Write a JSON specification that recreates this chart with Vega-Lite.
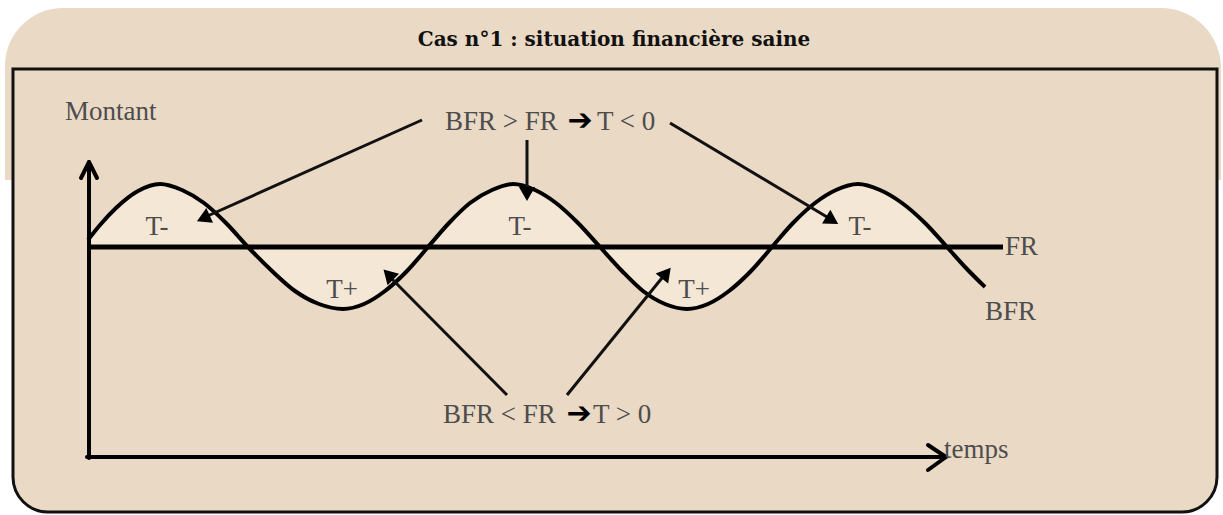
{
  "$schema": "https://vega.github.io/schema/vega-lite/v6.json",
  "width": 1223,
  "height": 515,
  "autosize": {"type": "fit", "contains": "padding"},
  "padding": 0,
  "background": "white",
  "config": {"view": {"stroke": null}},
  "datasets": {
    "top": [{"x": 5, "x2": 1221, "y": 8, "y2": 180}],
    "frame": [{"x": 13, "x2": 1217, "y": 69, "y2": 512}],
    "curve": [
      {"x": 88, "y": 240}, {"x": 100, "y": 225}, {"x": 116, "y": 208}, {"x": 138, "y": 191},
      {"x": 160, "y": 184}, {"x": 182, "y": 190}, {"x": 204, "y": 203}, {"x": 226, "y": 223},
      {"x": 248, "y": 247}, {"x": 272, "y": 271}, {"x": 295, "y": 291}, {"x": 319, "y": 304},
      {"x": 343, "y": 309}, {"x": 364, "y": 304}, {"x": 385, "y": 291}, {"x": 407, "y": 271},
      {"x": 428, "y": 247}, {"x": 449, "y": 223}, {"x": 470, "y": 203}, {"x": 492, "y": 190},
      {"x": 513, "y": 184}, {"x": 535, "y": 190}, {"x": 556, "y": 203}, {"x": 578, "y": 223},
      {"x": 600, "y": 247}, {"x": 622, "y": 271}, {"x": 643, "y": 291}, {"x": 665, "y": 304},
      {"x": 687, "y": 309}, {"x": 708, "y": 304}, {"x": 729, "y": 291}, {"x": 751, "y": 271},
      {"x": 772, "y": 247}, {"x": 793, "y": 223}, {"x": 815, "y": 203}, {"x": 836, "y": 190},
      {"x": 858, "y": 184}, {"x": 880, "y": 190}, {"x": 902, "y": 203}, {"x": 925, "y": 223},
      {"x": 947, "y": 247}, {"x": 966, "y": 268}, {"x": 985, "y": 287}
    ],
    "fill": [
      {"x": 88, "y": 240}, {"x": 100, "y": 225}, {"x": 116, "y": 208}, {"x": 138, "y": 191},
      {"x": 160, "y": 184}, {"x": 182, "y": 190}, {"x": 204, "y": 203}, {"x": 226, "y": 223},
      {"x": 248, "y": 247}, {"x": 272, "y": 271}, {"x": 295, "y": 291}, {"x": 319, "y": 304},
      {"x": 343, "y": 309}, {"x": 364, "y": 304}, {"x": 385, "y": 291}, {"x": 407, "y": 271},
      {"x": 428, "y": 247}, {"x": 449, "y": 223}, {"x": 470, "y": 203}, {"x": 492, "y": 190},
      {"x": 513, "y": 184}, {"x": 535, "y": 190}, {"x": 556, "y": 203}, {"x": 578, "y": 223},
      {"x": 600, "y": 247}, {"x": 622, "y": 271}, {"x": 643, "y": 291}, {"x": 665, "y": 304},
      {"x": 687, "y": 309}, {"x": 708, "y": 304}, {"x": 729, "y": 291}, {"x": 751, "y": 271},
      {"x": 772, "y": 247}, {"x": 793, "y": 223}, {"x": 815, "y": 203}, {"x": 836, "y": 190},
      {"x": 858, "y": 184}, {"x": 880, "y": 190}, {"x": 902, "y": 203}, {"x": 925, "y": 223},
      {"x": 947, "y": 247}
    ],
    "fr": [{"x": 88, "x2": 1003, "y": 247, "y2": 247}],
    "axes": [
      {"x": 89, "y": 458, "x2": 89, "y2": 164},
      {"x": 87, "y": 457, "x2": 944, "y2": 457},
      {"x": 81, "y": 178, "x2": 89, "y2": 162},
      {"x": 97, "y": 178, "x2": 89, "y2": 162},
      {"x": 928, "y": 445, "x2": 946, "y2": 457},
      {"x": 928, "y": 470, "x2": 946, "y2": 457}
    ],
    "pointers": [
      {"x": 422, "y": 120, "x2": 203, "y2": 218},
      {"x": 527, "y": 140, "x2": 527, "y2": 194},
      {"x": 670, "y": 123, "x2": 832, "y2": 220},
      {"x": 507, "y": 395, "x2": 388, "y2": 275},
      {"x": 567, "y": 395, "x2": 666, "y2": 273}
    ],
    "heads": [
      {"x": 203.3, "y": 218.3, "angle": 245.8},
      {"x": 527, "y": 194, "angle": 180},
      {"x": 832.2, "y": 220.3, "angle": 121},
      {"x": 388.4, "y": 274.5, "angle": 315.5},
      {"x": 666.3, "y": 273.1, "angle": 39.1}
    ],
    "title": [{"x": 614, "y": 46, "label": "Cas n°1 : situation financière saine"}],
    "labels": [
      {"x": 65, "y": 120, "label": "Montant"},
      {"x": 445, "y": 130, "label": "BFR > FR"},
      {"x": 597, "y": 130, "label": "T < 0"},
      {"x": 443, "y": 423, "label": "BFR < FR"},
      {"x": 593, "y": 423, "label": "T > 0"},
      {"x": 1005, "y": 255, "label": "FR"},
      {"x": 985, "y": 320, "label": "BFR"},
      {"x": 944, "y": 458, "label": "temps"}
    ],
    "tlabels": [
      {"x": 157, "y": 235, "label": "T-"},
      {"x": 520, "y": 235, "label": "T-"},
      {"x": 860, "y": 235, "label": "T-"},
      {"x": 342, "y": 298, "label": "T+"},
      {"x": 694, "y": 298, "label": "T+"}
    ],
    "glyphs": [
      {"x": 580, "y": 121, "label": "➔"},
      {"x": 579, "y": 414, "label": "➔"}
    ]
  },
  "layer": [
    {
      "data": {"name": "top"},
      "mark": {"type": "rect", "color": "#E9D9C5", "cornerRadiusTopLeft": 58, "cornerRadiusTopRight": 60},
      "encoding": {
        "x": {"field": "x", "type": "quantitative", "scale": {"domain": [0, 1223], "nice": false, "zero": false}, "axis": null},
        "x2": {"field": "x2"},
        "y": {"field": "y", "type": "quantitative", "scale": {"domain": [515, 0], "nice": false, "zero": false}, "axis": null},
        "y2": {"field": "y2"}
      }
    },
    {
      "data": {"name": "frame"},
      "mark": {"type": "rect", "fill": "#E9D9C5", "stroke": "#111111", "strokeWidth": 3, "cornerRadiusBottomLeft": 35, "cornerRadiusBottomRight": 35},
      "encoding": {
        "x": {"field": "x", "type": "quantitative"},
        "x2": {"field": "x2"},
        "y": {"field": "y", "type": "quantitative"},
        "y2": {"field": "y2"}
      }
    },
    {
      "data": {"name": "fill"},
      "mark": {"type": "area", "interpolate": "monotone", "color": "#F4E7D6"},
      "encoding": {
        "x": {"field": "x", "type": "quantitative"},
        "y": {"field": "y", "type": "quantitative"},
        "y2": {"datum": 247}
      }
    },
    {
      "data": {"name": "fr"},
      "mark": {"type": "rule", "color": "#000000", "strokeWidth": 5},
      "encoding": {
        "x": {"field": "x", "type": "quantitative"},
        "x2": {"field": "x2"},
        "y": {"field": "y", "type": "quantitative"},
        "y2": {"field": "y2"}
      }
    },
    {
      "data": {"name": "curve"},
      "mark": {"type": "line", "interpolate": "monotone", "color": "#000000", "strokeWidth": 4},
      "encoding": {
        "x": {"field": "x", "type": "quantitative"},
        "y": {"field": "y", "type": "quantitative"}
      }
    },
    {
      "data": {"name": "axes"},
      "mark": {"type": "rule", "color": "#000000", "strokeWidth": 4, "strokeCap": "round"},
      "encoding": {
        "x": {"field": "x", "type": "quantitative"},
        "x2": {"field": "x2"},
        "y": {"field": "y", "type": "quantitative"},
        "y2": {"field": "y2"}
      }
    },
    {
      "data": {"name": "pointers"},
      "mark": {"type": "rule", "color": "#111111", "strokeWidth": 3},
      "encoding": {
        "x": {"field": "x", "type": "quantitative"},
        "x2": {"field": "x2"},
        "y": {"field": "y", "type": "quantitative"},
        "y2": {"field": "y2"}
      }
    },
    {
      "data": {"name": "heads"},
      "mark": {"type": "point", "shape": "triangle-up", "filled": true, "color": "#000000", "opacity": 1, "size": 260},
      "encoding": {
        "x": {"field": "x", "type": "quantitative"},
        "y": {"field": "y", "type": "quantitative"},
        "angle": {"field": "angle", "type": "quantitative", "scale": null}
      }
    },
    {
      "data": {"name": "title"},
      "mark": {"type": "text", "font": "DejaVu Serif", "fontWeight": "bold", "fontSize": 20, "color": "#111111", "align": "center", "baseline": "alphabetic"},
      "encoding": {
        "x": {"field": "x", "type": "quantitative"},
        "y": {"field": "y", "type": "quantitative"},
        "text": {"field": "label"}
      }
    },
    {
      "data": {"name": "labels"},
      "mark": {"type": "text", "font": "Liberation Serif", "fontSize": 27, "color": "#4d4d4d", "align": "left", "baseline": "alphabetic"},
      "encoding": {
        "x": {"field": "x", "type": "quantitative"},
        "y": {"field": "y", "type": "quantitative"},
        "text": {"field": "label"}
      }
    },
    {
      "data": {"name": "tlabels"},
      "mark": {"type": "text", "font": "Liberation Serif", "fontSize": 27, "color": "#4d4d4d", "align": "center", "baseline": "alphabetic"},
      "encoding": {
        "x": {"field": "x", "type": "quantitative"},
        "y": {"field": "y", "type": "quantitative"},
        "text": {"field": "label"}
      }
    },
    {
      "data": {"name": "glyphs"},
      "mark": {"type": "text", "font": "DejaVu Sans", "fontWeight": "bold", "fontSize": 30, "color": "#000000", "align": "center", "baseline": "middle"},
      "encoding": {
        "x": {"field": "x", "type": "quantitative"},
        "y": {"field": "y", "type": "quantitative"},
        "text": {"field": "label"}
      }
    }
  ]
}
